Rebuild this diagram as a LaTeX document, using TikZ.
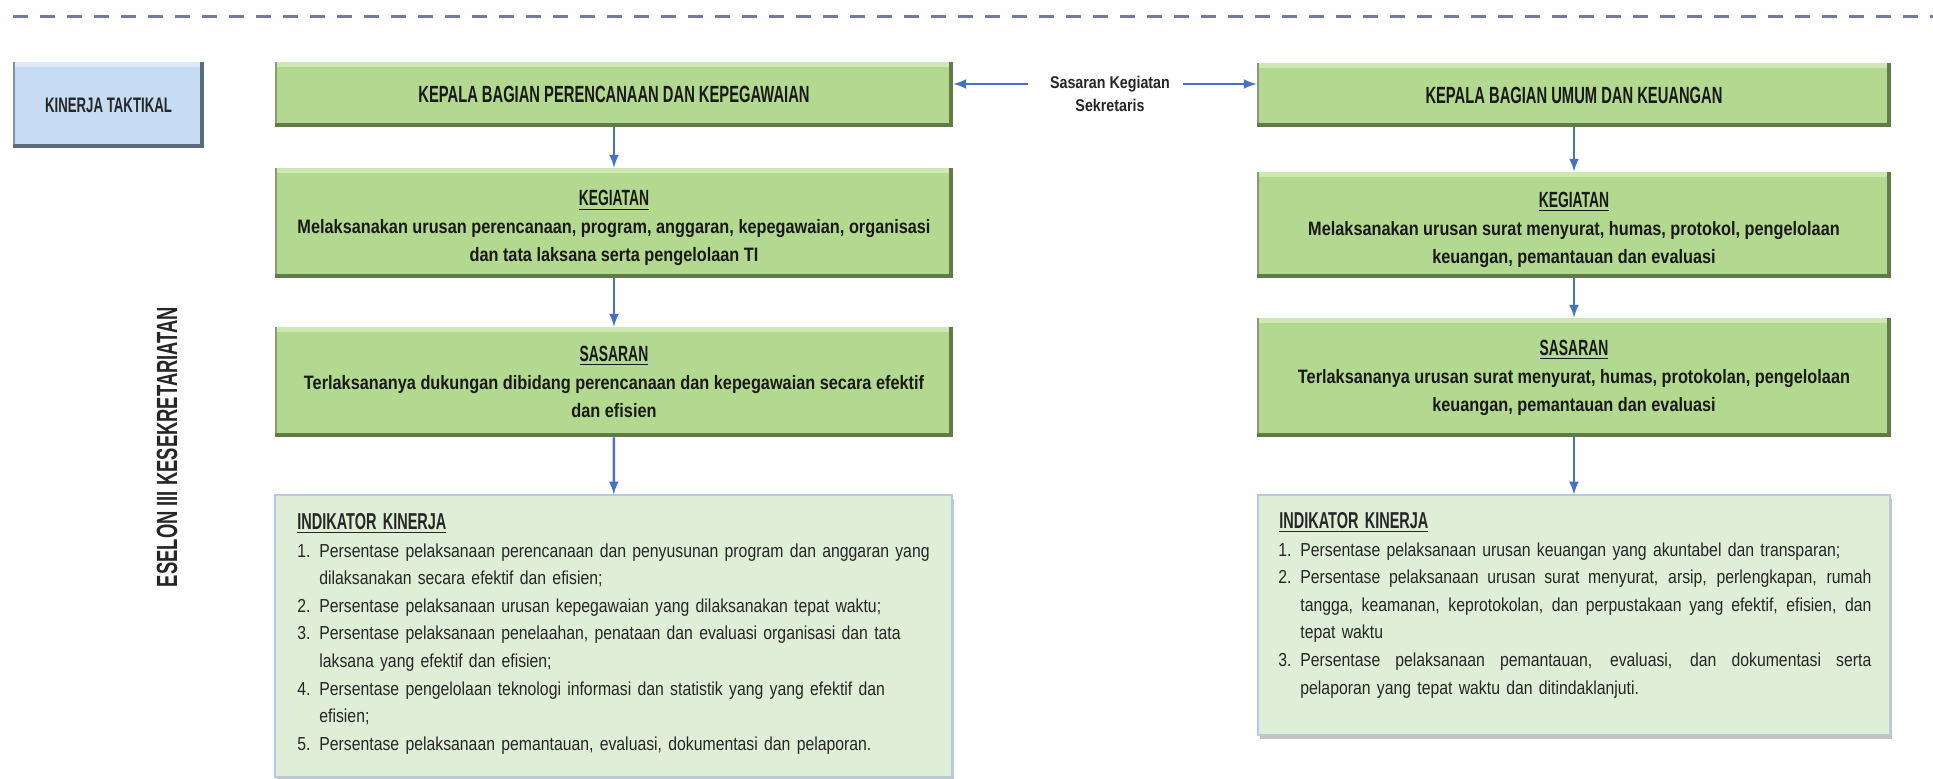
\documentclass[tikz,border=0pt]{standalone}
\usepackage{fontspec}
\usepackage{enumitem}
\usetikzlibrary{shadows}
\newfontfamily\capsfont{Liberation Sans}[FakeStretch=0.63]
\newfontfamily\bodyfont{Liberation Sans}[FakeStretch=0.84]
\definecolor{hijau}{RGB}{179,216,143}
\definecolor{hijauterang}{RGB}{205,232,178}
\definecolor{hijaugelap}{RGB}{96,122,72}
\definecolor{hijaumuda}{RGB}{223,238,214}
\definecolor{biru}{RGB}{197,220,243}
\definecolor{birugelap}{RGB}{92,106,128}
\definecolor{panah}{RGB}{68,114,196}
\definecolor{garis}{RGB}{112,122,162}
\newcommand{\boxhead}[2][0pt]{{\capsfont\bfseries\fontsize{11}{14}\selectfont\rule{0pt}{#1}\underline{#2}}}
\newcommand{\fullline}[1]{\makebox[\linewidth][s]{\spaceskip=\fontdimen2\font plus 1fil\relax #1}}

\tikzset{
	bevel/.style 2 args={path picture={
		\fill[#1] (path picture bounding box.north west) rectangle ([yshift=-2.5pt]path picture bounding box.north east);
		\fill[#2!75!white] (path picture bounding box.north west) rectangle ([xshift=1.2pt]path picture bounding box.south west);
		\fill[#2] ([xshift=-2pt]path picture bounding box.north east) rectangle (path picture bounding box.south east);
		\fill[#2] ([yshift=2pt]path picture bounding box.south west) rectangle (path picture bounding box.south east);
	}},
	greenbox/.style={rectangle, fill=hijau, bevel={hijauterang}{hijaugelap}, inner sep=0pt, align=center, text=black!90,
		font=\bodyfont\bfseries\fontsize{9.7}{14}\selectfont},
	bluebox/.style={rectangle, fill=biru, bevel={biru!60!white}{birugelap}, inner sep=0pt, align=center, text=black!85,
		font=\capsfont\bfseries\fontsize{10.5}{12}\selectfont},
	indbox/.style={rectangle, fill=hijaumuda, draw=biru!80!gray, line width=0.6pt,
		drop shadow={opacity=0.45, shadow xshift=1pt, shadow yshift=-2.2pt}},
	listtext/.style={inner sep=0pt, anchor=north west, text=black!85, font=\bodyfont\fontsize{9.4}{13.8}\selectfont},
	arr/.style={panah, very thick, -latex},
	dashline/.style={garis, line width=1.5pt, dash pattern=on 7.5pt off 6pt}
}
\setlist[enumerate]{label=\arabic*., leftmargin=11pt, labelwidth=8pt, labelsep=3pt, align=left,
	itemsep=0pt, topsep=0pt, parsep=0pt, partopsep=0pt}

\begin{document}
\begin{tikzpicture}[x=0.5pt,y=-0.5pt]
			\path[fill=white, use as bounding box] (0,0) rectangle (1933,779);
			\draw[dashline] (13,17) -- (1933,17);

			\node[bluebox, minimum width=95.5pt, minimum height=43pt] (taktis) at (108.5,105) {KINERJA TAKTIKAL};
			\node[rotate=90, text=black!85, font=\capsfont\bfseries\fontsize{14.6}{16}\selectfont] (eselon) at (167,447) {ESELON III KESEKRETARIATAN};

			% kolom kiri
			\node[greenbox, minimum width=339pt, minimum height=32.5pt, font=\capsfont\bfseries\fontsize{11.7}{14}\selectfont] (kepL) at (614,94.5) {KEPALA BAGIAN PERENCANAAN DAN KEPEGAWAIAN};
			\node[greenbox, minimum width=339pt, minimum height=55pt] (kegL) at (614,223) {\boxhead[13pt]{KEGIATAN}\\ Melaksanakan urusan perencanaan, program, anggaran, kepegawaian, organisasi\\ dan tata laksana serta pengelolaan TI};
			\node[greenbox, minimum width=339pt, minimum height=55pt] (sasL) at (614,382) {\boxhead{SASARAN}\\ Terlaksananya dukungan dibidang perencanaan dan kepegawaian secara efektif\\ dan efisien};
			\node[indbox, minimum width=338.5pt, minimum height=141pt] (indL) at (613.5,636) {};
			\node[listtext, text width=330pt] (listL) at (297,513) {\raggedright\hyphenpenalty=10000
				{\capsfont\bfseries\fontsize{11.5}{13.8}\selectfont\underline{INDIKATOR KINERJA}}\par
				\begin{enumerate}
				\item Persentase pelaksanaan perencanaan dan penyusunan program dan anggaran yang\newline dilaksanakan secara efektif dan efisien;
				\item Persentase pelaksanaan urusan kepegawaian yang dilaksanakan tepat waktu;
				\item Persentase pelaksanaan penelaahan, penataan dan evaluasi organisasi dan tata\newline laksana yang efektif dan efisien;
				\item Persentase pengelolaan teknologi informasi dan statistik yang yang efektif dan\newline efisien;
				\item Persentase pelaksanaan pemantauan, evaluasi, dokumentasi dan pelaporan.
				\end{enumerate}};

			% kolom kanan
			\node[greenbox, minimum width=317pt, minimum height=32pt, font=\capsfont\bfseries\fontsize{11.7}{14}\selectfont] (kepR) at (1574,95) {KEPALA BAGIAN UMUM DAN KEUANGAN};
			\node[greenbox, minimum width=317pt, minimum height=53pt] (kegR) at (1574,225) {\boxhead[12.5pt]{KEGIATAN}\\ Melaksanakan urusan surat menyurat, humas, protokol, pengelolaan\\ keuangan, pemantauan dan evaluasi};
			\node[greenbox, minimum width=317pt, minimum height=59.5pt] (sasR) at (1574,377.5) {\boxhead{SASARAN}\\ Terlaksananya urusan surat menyurat, humas, protokolan, pengelolaan\\ keuangan, pemantauan dan evaluasi};
			\node[indbox, minimum width=316pt, minimum height=120pt] (indR) at (1574,615) {};
			\node[listtext, text width=296pt] (listR) at (1279,512) {\raggedright\hyphenpenalty=10000
				{\capsfont\bfseries\fontsize{11.5}{13.8}\selectfont\underline{INDIKATOR KINERJA}}\par
				\begin{enumerate}[leftmargin=10.5pt]
				\item Persentase pelaksanaan urusan keuangan yang akuntabel dan transparan;
				\item \fullline{Persentase pelaksanaan urusan surat menyurat, arsip, perlengkapan, rumah}\newline \fullline{tangga, keamanan, keprotokolan, dan perpustakaan yang efektif, efisien, dan}\newline tepat waktu
				\item \fullline{Persentase pelaksanaan pemantauan, evaluasi, dan dokumentasi serta}\newline pelaporan yang tepat waktu dan ditindaklanjuti.
				\end{enumerate}};

			% tengah
			\node[align=center, text=black!85, font=\bodyfont\bfseries\fontsize{8.5}{11.5}\selectfont] (sk) at (1110,93.5) {Sasaran Kegiatan\\Sekretaris};
			\coordinate (skL) at (1028,84);
			\coordinate (skR) at (1183,84);
			\draw[arr] (skL) -- (skL -| kepL.east);
			\draw[arr] (skR) -- (skR -| kepR.west);

			\foreach \a/\b in {kepL/kegL, kegL/sasL, sasL/indL, kepR/kegR, kegR/sasR, sasR/indR}
				\draw[arr] (\a) -- (\b);
\end{tikzpicture}
\end{document}
